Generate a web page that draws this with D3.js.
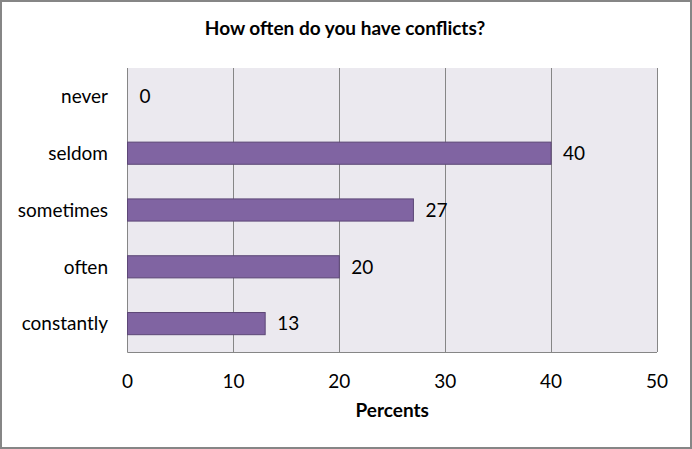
<!DOCTYPE html>
<html>
<head>
<meta charset="utf-8">
<script src="https://cdn.jsdelivr.net/npm/d3@7"></script>
<style>
  body { margin: 0; background: #fff; }
  text { font-family: Lato, "Open Sans", "Liberation Sans", sans-serif; fill: #000; }
</style>
</head>
<body>
<div id="chart"></div>
<script>
// data
var categories = ["never", "seldom", "sometimes", "often", "constantly"]
var percents = [0, 40, 27, 20, 13]
var xTicks = [0, 10, 20, 30, 40, 50]

var width = 692, height = 449
var plot = { left: 127.5, right: 657, top: 68, bottom: 352 }
var fs = 19

var svg = d3.select("#chart")
  .append("svg")
  .attr("width", width)
  .attr("height", height)

// outer frame
svg.append("rect")
  .attr("x", 1).attr("y", 1)
  .attr("width", width - 2).attr("height", height - 2)
  .attr("fill", "#fff")
  .attr("stroke", "#868686")
  .attr("stroke-width", 2)

var x = d3.scaleLinear().domain([0, 50]).range([plot.left, plot.right])
var y = d3.scaleBand().domain(categories).range([plot.top, plot.bottom]).paddingInner(0.61).paddingOuter(0.305)

// plot background
svg.append("rect")
  .attr("x", plot.left).attr("y", plot.top)
  .attr("width", plot.right - plot.left).attr("height", plot.bottom - plot.top)
  .attr("fill", "#ebe9ef")

// gridlines
svg.append("g")
  .selectAll("line")
  .data(xTicks.slice(1))
  .enter()
  .append("line")
  .attr("x1", function(d) { return Math.round(x(d)) + 0.5 })
  .attr("x2", function(d) { return Math.round(x(d)) + 0.5 })
  .attr("y1", plot.top)
  .attr("y2", plot.bottom)
  .attr("stroke", "#868686")
  .attr("stroke-width", 1)

// axis lines
svg.append("line")
  .attr("x1", plot.left).attr("x2", plot.left)
  .attr("y1", plot.top).attr("y2", plot.bottom + 0.5)
  .attr("stroke", "#868686")
svg.append("line")
  .attr("x1", plot.left).attr("x2", plot.right)
  .attr("y1", plot.bottom + 0.5).attr("y2", plot.bottom + 0.5)
  .attr("stroke", "#868686")

// bars
svg.append("g")
  .selectAll("rect")
  .data(percents)
  .enter()
  .append("rect")
  .attr("x", x(0))
  .attr("y", function(d, i) { return y(categories[i]) })
  .attr("width", function(d) { return x(d) - x(0) })
  .attr("height", y.bandwidth())
  .attr("fill", "#8064a2")
  .attr("stroke", function(d) { return d > 0 ? "#5c4776" : "none" })
  .attr("stroke-width", 1)

// value labels
svg.append("g")
  .selectAll("text")
  .data(percents)
  .enter()
  .append("text")
  .attr("x", function(d) { return x(d) + 12 })
  .attr("y", function(d, i) { return y(categories[i]) + y.bandwidth() / 2 })
  .attr("dy", "0.36em")
  .attr("font-size", fs)
  .text(function(d) { return d })

// category labels
svg.append("g")
  .selectAll("text")
  .data(categories)
  .enter()
  .append("text")
  .attr("x", 108)
  .attr("y", function(d) { return y(d) + y.bandwidth() / 2 })
  .attr("dy", "0.36em")
  .attr("text-anchor", "end")
  .attr("font-size", fs)
  .text(function(d) { return d })

// x tick labels
svg.append("g")
  .selectAll("text")
  .data(xTicks)
  .enter()
  .append("text")
  .attr("x", function(d) { return x(d) })
  .attr("y", 388)
  .attr("text-anchor", "middle")
  .attr("font-size", fs)
  .text(function(d) { return d })

svg.append("text")
  .attr("x", (plot.left + plot.right) / 2)
  .attr("y", 417)
  .attr("text-anchor", "middle")
  .attr("font-size", fs)
  .attr("font-weight", "bold")
  .text("Percents")

svg.append("text")
  .attr("x", 345)
  .attr("y", 35)
  .attr("text-anchor", "middle")
  .attr("font-size", fs)
  .attr("font-weight", "bold")
  .text("How often do you have conflicts?")
</script>
</body>
</html>
